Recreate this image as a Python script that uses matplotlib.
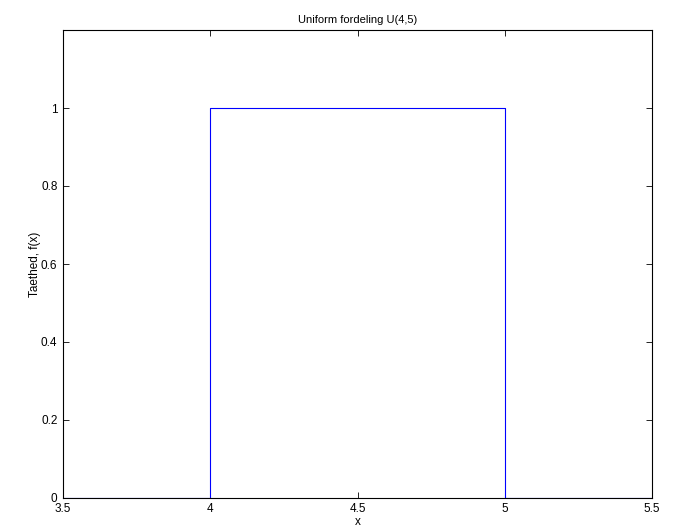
import matplotlib
matplotlib.use("Agg")
import matplotlib.pyplot as plt

plt.rcParams["font.family"] = ["Liberation Sans", "DejaVu Sans"]

# Uniform density U(4,5)
x = [3.5, 4.0, 4.0, 5.0, 5.0, 5.5]
f = [0.0, 0.0, 1.0, 1.0, 0.0, 0.0]
xticks = [3.5, 4, 4.5, 5, 5.5]
yticks = [0, 0.2, 0.4, 0.6, 0.8, 1]

fig = plt.figure(figsize=(6.73, 5.28), dpi=100)
ax = fig.add_axes([63 / 673, 30 / 528, 589 / 673, 468 / 528])
ax.plot(x, f, color="#0000ff", linewidth=0.8)
ax.set_xlim(3.5, 5.5)
ax.set_ylim(0, 1.2)
ax.set_xticks(xticks)
ax.set_xticklabels(["3.5", "4", "4.5", "5", "5.5"])
ax.set_yticks(yticks)
ax.set_yticklabels(["0", "0.2", "0.4", "0.6", "0.8", "1"])
ax.tick_params(direction="in", top=True, right=True, labelsize=8.5, length=4, width=0.6)
ax.tick_params(axis="x", pad=3.5)
ax.tick_params(axis="y", pad=4)
for s in ax.spines.values():
    s.set_linewidth(0.8)
ax.set_title("Uniform fordeling U(4,5)", fontsize=8, pad=5)
ax.set_xlabel("x", fontsize=8.5, labelpad=0.5)
ax.set_ylabel("Taethed, f(x)", fontsize=8.5, labelpad=0)

fig.savefig("out.png", dpi=100)
